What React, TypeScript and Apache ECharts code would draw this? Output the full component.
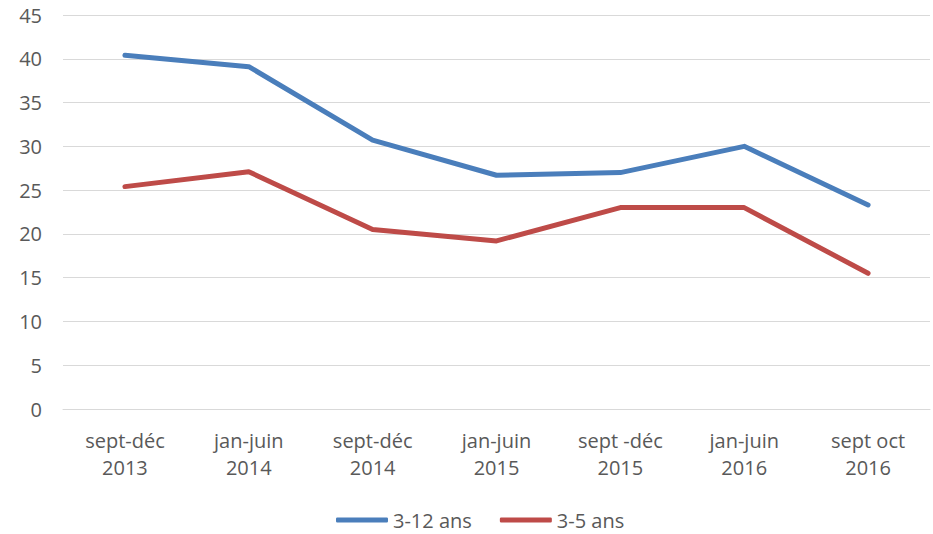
import React, { useEffect, useRef } from "react";
import * as echarts from "echarts";

const categories = [
  "sept-déc\n2013",
  "jan-juin\n2014",
  "sept-déc\n2014",
  "jan-juin\n2015",
  "sept -déc\n2015",
  "jan-juin\n2016",
  "sept oct\n2016",
];
const series312 = [40.4, 39.1, 30.7, 26.7, 27.0, 30.0, 23.3];
const series35 = [25.4, 27.1, 20.5, 19.2, 23.0, 23.0, 15.5];
const seriesNames = ["3-12 ans", "3-5 ans"];

const FONT = "'Open Sans', sans-serif";

export default function App() {
  const ref = useRef<HTMLDivElement>(null);
  useEffect(() => {
    if (!ref.current) return;
    const chart = echarts.init(ref.current, undefined, { renderer: "svg" });
    chart.setOption({
      animation: false,
      grid: { left: 63, right: 3, top: 15, bottom: 125, containLabel: false },
      legend: {
        top: 508,
        left: 336,
        padding: 0,
        itemWidth: 52,
        itemHeight: 5,
        itemGap: 28,
        icon: "roundRect",
        textStyle: { fontFamily: FONT, fontSize: 20, lineHeight: 24, color: "#595959" },
        data: seriesNames,
      },
      xAxis: {
        type: "category",
        data: categories,
        axisLine: { lineStyle: { color: "#d9d9d9", width: 1 } },
        axisTick: { show: false },
        axisLabel: {
          fontFamily: FONT,
          fontSize: 20,
          color: "#595959",
          lineHeight: 27,
          margin: 18,
          interval: 0,
        },
      },
      yAxis: {
        type: "value",
        min: 0,
        max: 45,
        interval: 5,
        axisLine: { show: false },
        axisTick: { show: false },
        splitLine: { lineStyle: { color: "#d9d9d9", width: 1 } },
        axisLabel: {
          fontFamily: FONT,
          fontSize: 20,
          color: "#595959",
          margin: 21,
        },
      },
      series: [
        {
          name: seriesNames[0],
          type: "line",
          data: series312,
          showSymbol: false,
          symbol: "none",
          lineStyle: { color: "#4a7ebb", width: 5, cap: "round", join: "round" },
          itemStyle: { color: "#4a7ebb" },
        },
        {
          name: seriesNames[1],
          type: "line",
          data: series35,
          showSymbol: false,
          symbol: "none",
          lineStyle: { color: "#be4b48", width: 5, cap: "round", join: "round" },
          itemStyle: { color: "#be4b48" },
        },
      ],
    });
    return () => chart.dispose();
  }, []);
  return <div ref={ref} style={{ width: 933, height: 534, position: "absolute", left: 0, top: 0 }} />;
}
